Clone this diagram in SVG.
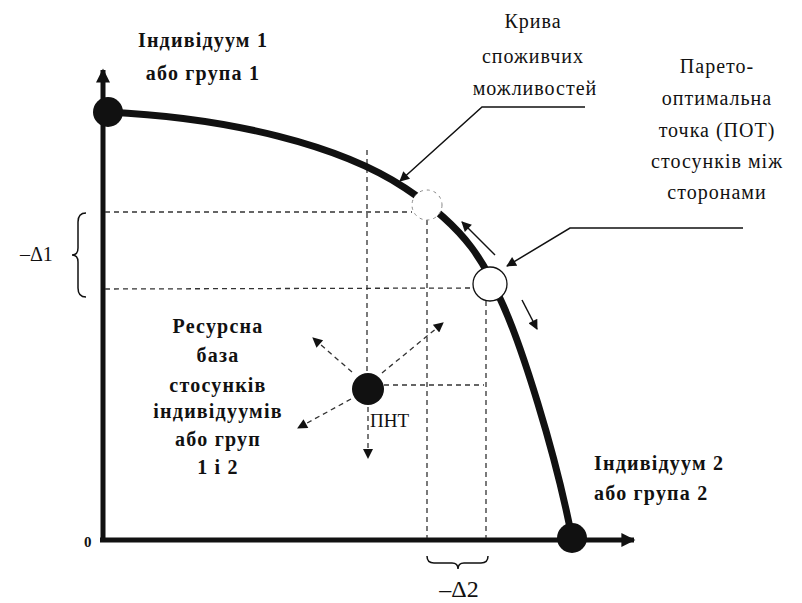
<svg xmlns="http://www.w3.org/2000/svg" width="802" height="603" viewBox="0 0 802 603">
<style>
.t{font-family:"Liberation Serif","DejaVu Serif","Times New Roman",serif;fill:#111}
.b{font-weight:bold;font-size:20px;letter-spacing:1.2px}
.r{font-size:20px;letter-spacing:1px}
.dash{fill:none;stroke:#333;stroke-width:1.3;stroke-dasharray:5 4}
.thin{fill:none;stroke:#111;stroke-width:1.5}
</style>
<defs>
<marker id="ah" viewBox="0 0 10 10" refX="9" refY="5" markerWidth="14" markerHeight="10" markerUnits="userSpaceOnUse" orient="auto"><path d="M0,0 L10,5 L0,10 z" fill="#111"/></marker>
<marker id="ax" viewBox="0 0 10 10" refX="9" refY="5" markerWidth="20" markerHeight="14" markerUnits="userSpaceOnUse" orient="auto"><path d="M0,0 L10,5 L0,10 z" fill="#111"/></marker>
</defs>
<rect width="802" height="603" fill="#fff"/>
<g id="axes">
<line x1="103" y1="542" x2="103" y2="70" stroke="#111" stroke-width="5" marker-end="url(#ax)"/>
<line x1="100" y1="540" x2="634" y2="540" stroke="#111" stroke-width="5" marker-end="url(#ax)"/>
<text class="t" x="84" y="547" font-size="15" font-weight="bold">0</text>
</g>
<g id="guides">
<line class="dash" x1="105" y1="212" x2="412" y2="212"/>
<line class="dash" x1="105" y1="289" x2="473" y2="288"/>
<line class="dash" x1="427" y1="220" x2="427" y2="538"/>
<line class="dash" x1="486" y1="301" x2="486" y2="538"/>
<line class="dash" x1="367" y1="150" x2="367" y2="372"/>
<line class="dash" x1="384" y1="385" x2="484" y2="385"/>
</g>
<g id="connectors">
<path class="thin" d="M585,107 L482,107 L400,181" marker-end="url(#ah)"/>
<path class="thin" d="M743,228 L570,228 L507,266" marker-end="url(#ah)"/>
<line class="thin" x1="495" y1="255" x2="462" y2="222" marker-end="url(#ah)"/>
<line class="thin" x1="522" y1="300" x2="537" y2="329" marker-end="url(#ah)"/>
<line class="dash" x1="352" y1="372" x2="313" y2="338" marker-end="url(#ah)"/>
<line class="dash" x1="382" y1="373" x2="443" y2="323" marker-end="url(#ah)"/>
<line class="dash" x1="351" y1="399" x2="298" y2="428" marker-end="url(#ah)"/>
<line class="dash" x1="368" y1="407" x2="368" y2="458" marker-end="url(#ah)"/>
</g>
<g id="curve">
<path d="M108,112 C230,118 340,145 405,188 S485,265 503,305 S555,450 572,538" fill="none" stroke="#111" stroke-width="7"/>
</g>
<g id="braces">
<path class="thin" d="M86,213 Q78,213 78,222 L78,248 Q78,255 72,255 Q78,255 78,262 L78,288 Q78,297 86,297" stroke-width="1.2"/>
<path class="thin" d="M427,556 Q427,563 434,563 L452,563 Q458,563 458,569 Q458,563 464,563 L481,563 Q488,563 488,556" stroke-width="1.2"/>
</g>
<g id="node-ind1">
<circle cx="108" cy="112" r="15" fill="#111"/>
<text class="t b" x="203" y="47" text-anchor="middle">Індивідуум 1</text>
<text class="t b" x="203" y="80" text-anchor="middle">або група 1</text>
</g>
<g id="node-ind2">
<circle cx="572" cy="538" r="15" fill="#111"/>
<text class="t b" x="594" y="470">Індивідуум 2</text>
<text class="t b" x="594" y="500">або група 2</text>
</g>
<g id="node-c1">
<circle cx="427" cy="205" r="15" fill="#fff" stroke="#888" stroke-width="1" stroke-dasharray="3 4"/>
</g>
<g id="node-pot">
<circle cx="490" cy="284" r="17" fill="#fff" stroke="#111" stroke-width="1.3"/>
</g>
<g id="node-pnt">
<circle cx="368" cy="389" r="16" fill="#111"/>
<text class="t" x="370" y="427" font-size="19">ПНТ</text>
</g>
<g id="labels">
<text class="t r" text-anchor="middle" x="533" y="28">Крива</text>
<text class="t r" text-anchor="middle" x="533" y="63">споживчих</text>
<text class="t r" text-anchor="middle" x="535" y="95">можливостей</text>
<text class="t r" text-anchor="middle" x="717" y="73">Парето-</text>
<text class="t r" text-anchor="middle" x="717" y="105">оптимальна</text>
<text class="t r" text-anchor="middle" x="717" y="137">точка  (ПОТ)</text>
<text class="t r" text-anchor="middle" x="717" y="168">стосунків між</text>
<text class="t r" text-anchor="middle" x="717" y="199">сторонами</text>
<text class="t b" text-anchor="middle" x="218" y="333">Ресурсна</text>
<text class="t b" text-anchor="middle" x="218" y="362">база</text>
<text class="t b" text-anchor="middle" x="218" y="392">стосунків</text>
<text class="t b" text-anchor="middle" x="218" y="418">індивідуумів</text>
<text class="t b" text-anchor="middle" x="218" y="446">або груп</text>
<text class="t b" text-anchor="middle" x="218" y="474">1 і 2</text>
<text class="t" x="20" y="261" font-size="20" fill="#555">–Δ1</text>
<text class="t" text-anchor="middle" x="459" y="597" font-size="24">–Δ2</text>
</g>
</svg>
